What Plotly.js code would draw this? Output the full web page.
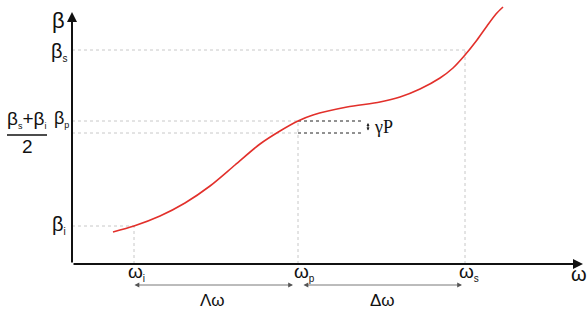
<!DOCTYPE html>
<html>
<head>
<meta charset="utf-8">
<script src="https://cdn.plot.ly/plotly-3.0.1.min.js"></script>
<style>html,body{margin:0;padding:0;background:#fff;}#chart{width:587px;height:310px;}</style>
</head>
<body>
<div id="chart"></div>
<script>
// Dispersion curve beta(omega) (schematic units)
const omegaCurve = [41, 62, 88, 113, 138, 163, 188, 208, 226, 241, 275, 308, 328, 348, 368, 381, 393, 405, 415, 424, 431];
const betaCurve  = [32, 38, 48, 61, 78, 99, 120, 133, 143, 149, 157, 162, 167, 175, 186, 196, 209, 224, 238, 250, 257];

// Key frequencies and propagation constants
const omegaKeys = {i: 62, p: 226, s: 393};
const betaKeys  = {i: 38, p: 143, mid: 131, s: 214};
const gammaPEnd = 291;   // end of the gammaP guide lines
const axisEnds = {omega: 511, beta: 252};

const sans = 'Liberation Sans, Arial, sans-serif';
const serif = 'Liberation Serif, Times New Roman, serif';
const grey = '#c8c8c8';

function sub(t, px) { return '<sub><span style="font-size:' + px + 'px">' + t + '</span></sub>'; }

const traces = [{
  x: omegaCurve, y: betaCurve, mode: 'lines', type: 'scatter',
  line: {color: '#e2302b', width: 1.6, shape: 'spline', smoothing: 0.8},
  hoverinfo: 'skip', showlegend: false
}];

function gline(x0, y0, x1, y1, color, dash) {
  return {type: 'line', xref: 'x', yref: 'y', x0, y0, x1, y1,
          line: {color: color, width: 1, dash: dash || 'dot'}, layer: 'below'};
}

const shapes = [
  // horizontal guides
  gline(0, betaKeys.s, omegaKeys.s, betaKeys.s, grey),
  gline(0, betaKeys.p, omegaKeys.p, betaKeys.p, grey),
  gline(0, betaKeys.mid, omegaKeys.p, betaKeys.mid, grey),
  gline(0, betaKeys.i, omegaKeys.i, betaKeys.i, grey),
  // vertical guides
  gline(omegaKeys.i, 0, omegaKeys.i, betaKeys.i, grey),
  gline(omegaKeys.p, 0, omegaKeys.p, betaKeys.p, grey),
  gline(omegaKeys.s, 0, omegaKeys.s, betaKeys.s, grey),
  // gammaP guides
  gline(omegaKeys.p, betaKeys.p, gammaPEnd, betaKeys.p, '#222'),
  gline(omegaKeys.p, betaKeys.mid, gammaPEnd, betaKeys.mid, '#222'),
  // fraction bar
  {type: 'line', xref: 'x', yref: 'y', x0: -65, x1: -25, y0: 129, y1: 129, line: {color: '#111', width: 1.5}}
];

function label(text, x, y, size, xanchor, font) {
  return {text: text, x: x, y: y, xref: 'x', yref: 'y', showarrow: false,
          xanchor: xanchor || 'center', yanchor: 'middle',
          font: {family: font || sans, size: size, color: '#111'}};
}
function arrow(x, y, ax, ay, width, color, side, size) {
  return {x: x, y: y, ax: ax, ay: ay, xref: 'x', yref: 'y', axref: 'x', ayref: 'y',
          text: '', showarrow: true, arrowhead: 2, arrowsize: size || 1, arrowwidth: width,
          arrowcolor: color, arrowside: side || 'end', standoff: 0, startstandoff: 0};
}

const annotations = [
  // axes
  arrow(0, axisEnds.beta, 0, 0, 2, '#111', 'end', 1),
  arrow(axisEnds.omega, 0, 0, 0, 2, '#111', 'end', 1),
  // axis names
  label('β', -14, 244, 22),
  label('ω', 507, -10, 20),
  // beta ticks
  label('β' + sub('s', 10), -2, 212, 20, 'right'),
  label('β' + sub('p', 9), -1, 145, 18, 'right'),
  label('β' + sub('i', 10), -4, 39, 20, 'right'),
  label('β' + sub('s', 9) + '+β' + sub('i', 9), -46, 145, 19),
  label('2', -45, 118, 19),
  // omega ticks
  label('ω' + sub('i', 10), omegaKeys.i - 8, -8, 19, 'left'),
  label('ω' + sub('p', 10), omegaKeys.p - 6, -8, 19, 'left'),
  label('ω' + sub('s', 10), omegaKeys.s - 8, -8, 19, 'left'),
  // spacing arrows
  arrow(221, -21, 61, -21, 0.8, '#555', 'end+start', 1.2),
  arrow(390, -21, 230, -21, 0.8, '#555', 'end+start', 1.2),
  label('Λω', 140, -36, 17),
  label('Δω', 310, -36, 17),
  // gammaP
  arrow(296, betaKeys.p - 2, 296, betaKeys.mid + 1, 1, '#222', 'end+start', 0.6),
  label('γP', 300, 137, 18, 'left', serif)
];

const layout = {
  width: 587, height: 310,
  margin: {l: 0, r: 0, t: 0, b: 0},
  paper_bgcolor: '#fff', plot_bgcolor: '#fff',
  xaxis: {range: [-72, 515], visible: false, fixedrange: true},
  yaxis: {range: [-46, 264], visible: false, fixedrange: true},
  shapes: shapes, annotations: annotations, showlegend: false
};

Plotly.newPlot('chart', traces, layout, {displayModeBar: false, staticPlot: true});
</script>
</body>
</html>
